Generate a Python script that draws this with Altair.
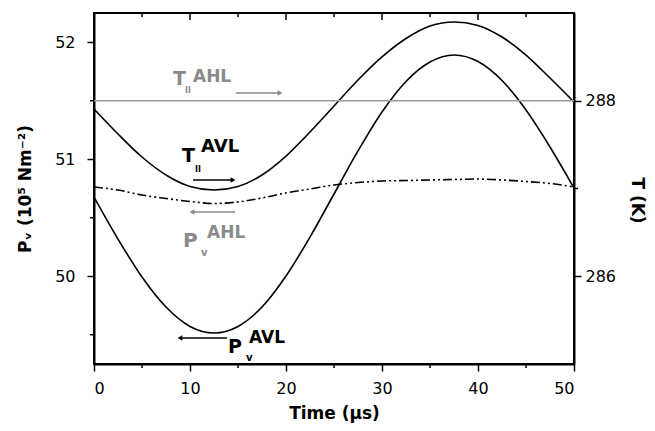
import altair as alt
import pandas as pd

# ---- data ----
time_us = [0, 2.5, 5, 7.5, 10, 12.5, 15, 17.5, 20, 22.5, 25, 27.5, 30, 32.5, 35, 37.5, 40, 42.5, 45, 47.5, 50]
t_avl = [287.906, 287.621, 287.359, 287.154, 287.023, 286.983, 287.023, 287.154, 287.370, 287.644, 287.940,
         288.236, 288.499, 288.709, 288.852, 288.897, 288.858, 288.726, 288.521, 288.259, 287.986]
p_avl = [50.677, 50.318, 49.994, 49.737, 49.571, 49.515, 49.571, 49.737, 50.002, 50.335, 50.703,
         51.071, 51.404, 51.665, 51.831, 51.891, 51.835, 51.673, 51.421, 51.105, 50.754]
p_ahl = [50.763, 50.737, 50.694, 50.665, 50.639, 50.622, 50.635, 50.669, 50.712, 50.746, 50.780,
         50.801, 50.814, 50.818, 50.823, 50.827, 50.831, 50.823, 50.810, 50.793, 50.763]
t_ahl_time = [0, 50]
t_ahl = [288.0, 288.0]

x_major = [0, 10, 20, 30, 40, 50]
x_minor = [5, 15, 25, 35, 45]
p_major = [50, 51, 52]
p_minor = [49.5, 50.5, 51.5]
t_major = [286, 288]
t_minor = [287]

# annotation pieces (left x in µs, baseline in axis units)
p_txt = ["P", "v", "AHL", "P", "v", "AVL"]
p_txt_t = [9.27, 11.15, 11.77, 13.96, 15.83, 16.15]
p_txt_y = [50.25, 50.173, 50.327, 49.344, 49.276, 49.429]
p_txt_size = [20, 10, 17, 19, 10, 17]
p_txt_col = ["#8a8a8a", "#8a8a8a", "#8a8a8a", "black", "black", "black"]

t_txt = ["T", "II", "AHL", "T", "II", "AVL"]
t_txt_t = [8.23, 9.48, 10.31, 9.17, 10.52, 11.15]
t_txt_y = [288.179, 288.088, 288.214, 287.302, 287.188, 287.416]
t_txt_size = [19, 8, 17, 19, 8, 18]
t_txt_col = ["#8a8a8a", "#8a8a8a", "#8a8a8a", "black", "black", "black"]

# arrows: start, end (head at end)
p_arr_t1 = [14.69, 13.85]
p_arr_t2 = [10.21, 8.96]
p_arr_y = [50.549, 49.472]
p_arr_col = ["#8a8a8a", "black"]
p_arr_shape = ["triangle-left", "triangle-left"]

t_arr_t1 = [14.79, 10.31]
t_arr_t2 = [19.375, 14.48]
t_arr_y = [288.088, 287.097]
t_arr_col = ["#8a8a8a", "black"]
t_arr_shape = ["triangle-right", "triangle-right"]

XDOM = [0, 50]
PDOM = [49.25, 52.25]
TDOM = [285, 289]


def xs():
    return alt.Scale(domain=XDOM, nice=False, zero=False)


def ps():
    return alt.Scale(domain=PDOM, nice=False, zero=False)


def tsc():
    return alt.Scale(domain=TDOM, nice=False, zero=False)


def x_axis():
    return alt.Axis(values=x_major, title="Time (µs)", tickSize=7, labelPadding=9,
                    titlePadding=9, labelFontSize=16, titleFontSize=17)


p_axis = alt.Axis(values=p_major, title="Pᵥ (10⁵ Nm⁻²)", orient="left", tickSize=7, labelPadding=12,
                  labelFontSize=16, titleFontSize=17, titlePadding=20)
t_axis = alt.Axis(values=t_major, title="T (K)", orient="right", tickSize=7, labelPadding=4,
                  labelFontSize=16, titleFontSize=17, titleAngle=90, titleX=62, titleY=187,
                  titleAlign="center", titleBaseline="middle")


def X(field="t"):
    return alt.X(f"{field}:Q", scale=xs(), axis=x_axis())


def YP(axis=None):
    return alt.Y("P:Q", scale=ps(), axis=axis)


def YT(axis=None):
    return alt.Y("T:Q", scale=tsc(), axis=axis)


# ---------- P (left axis) ----------
df_p_avl = pd.DataFrame({"t": time_us, "P": p_avl})
df_p_ahl = pd.DataFrame({"t": time_us, "P": p_ahl})

l_p_avl = alt.Chart(df_p_avl).mark_line(color="black", strokeWidth=1.6, interpolate="monotone").encode(
    x=X(), y=YP(p_axis))
l_p_ahl = alt.Chart(df_p_ahl).mark_line(color="black", strokeWidth=1.6, interpolate="monotone",
                                        strokeDash=[9, 3, 2, 3, 2, 3]).encode(x=X(), y=YP())

df_p_txt = pd.DataFrame({"t": p_txt_t, "P": p_txt_y, "txt": p_txt, "fs": p_txt_size, "c": p_txt_col})
l_p_txt = alt.Chart(df_p_txt).mark_text(align="left", baseline="alphabetic", fontWeight="bold",
                                        font="DejaVu Sans").encode(
    x=X(), y=YP(), text="txt:N",
    size=alt.Size("fs:Q", scale=None), color=alt.Color("c:N", scale=None))

df_p_arr = pd.DataFrame({"t": p_arr_t1, "t2": p_arr_t2, "P": p_arr_y, "c": p_arr_col, "sh": p_arr_shape})
l_p_arr = alt.Chart(df_p_arr).mark_rule(strokeWidth=1.5).encode(
    x=X(), x2="t2:Q", y=YP(), color=alt.Color("c:N", scale=None))
l_p_head = alt.Chart(df_p_arr).mark_point(filled=True, size=30, opacity=1).encode(
    x=X("t2"), y=YP(), color=alt.Color("c:N", scale=None), shape=alt.Shape("sh:N", scale=None))

l_p_minor = alt.Chart(pd.DataFrame({"P": p_minor})).mark_rule(color="black", strokeWidth=1.5).encode(
    y=YP(), x=alt.value(-4), x2=alt.value(0))

l_x_minor = alt.Chart(pd.DataFrame({"t": x_minor})).mark_rule(color="black", strokeWidth=1.5).encode(
    x=X(), y=alt.value(351), y2=alt.value(355))
l_top_major = alt.Chart(pd.DataFrame({"t": x_major})).mark_rule(color="black", strokeWidth=1.5).encode(
    x=X(), y=alt.value(0), y2=alt.value(7))
l_top_minor = alt.Chart(pd.DataFrame({"t": x_minor})).mark_rule(color="black", strokeWidth=1.5).encode(
    x=X(), y=alt.value(0), y2=alt.value(4))

# ---------- T (right axis) ----------
df_t_avl = pd.DataFrame({"t": time_us, "T": t_avl})
df_t_ahl = pd.DataFrame({"t": t_ahl_time, "T": t_ahl})

r_t_avl = alt.Chart(df_t_avl).mark_line(color="black", strokeWidth=1.6, interpolate="monotone").encode(
    x=X(), y=YT(t_axis))
r_t_ahl = alt.Chart(df_t_ahl).mark_line(color="#9a9a9a", strokeWidth=1.6).encode(x=X(), y=YT())

df_t_txt = pd.DataFrame({"t": t_txt_t, "T": t_txt_y, "txt": t_txt, "fs": t_txt_size, "c": t_txt_col})
r_t_txt = alt.Chart(df_t_txt).mark_text(align="left", baseline="alphabetic", fontWeight="bold",
                                        font="DejaVu Sans").encode(
    x=X(), y=YT(), text="txt:N",
    size=alt.Size("fs:Q", scale=None), color=alt.Color("c:N", scale=None))

df_t_arr = pd.DataFrame({"t": t_arr_t1, "t2": t_arr_t2, "T": t_arr_y, "c": t_arr_col, "sh": t_arr_shape})
r_t_arr = alt.Chart(df_t_arr).mark_rule(strokeWidth=1.5).encode(
    x=X(), x2="t2:Q", y=YT(), color=alt.Color("c:N", scale=None))
r_t_head = alt.Chart(df_t_arr).mark_point(filled=True, size=30, opacity=1).encode(
    x=X("t2"), y=YT(), color=alt.Color("c:N", scale=None), shape=alt.Shape("sh:N", scale=None))

r_t_minor = alt.Chart(pd.DataFrame({"T": t_minor})).mark_rule(color="black", strokeWidth=1.5).encode(
    y=YT(), x=alt.value(480), x2=alt.value(484))

chart = alt.layer(
    l_p_avl, r_t_avl, r_t_ahl, l_p_ahl, l_p_txt, l_p_arr, l_p_head, l_p_minor,
    l_x_minor, l_top_major, l_top_minor, r_t_txt, r_t_arr, r_t_head, r_t_minor,
).resolve_scale(y="independent").properties(
    width=480, height=351,
    autosize=alt.AutoSizeParams(type="none"),
    padding={"left": 86, "top": 5, "right": 73, "bottom": 59},
    background="white",
).configure_view(stroke="black", strokeWidth=2).configure_axis(
    domainColor="black", domainWidth=2, tickColor="black", tickWidth=1.5,
    labelColor="black", titleColor="black", labelFont="DejaVu Sans", titleFont="DejaVu Sans",
    titleFontWeight="bold", grid=False,
)

chart.save("out.html", embed_options={"renderer": "svg", "actions": False})
